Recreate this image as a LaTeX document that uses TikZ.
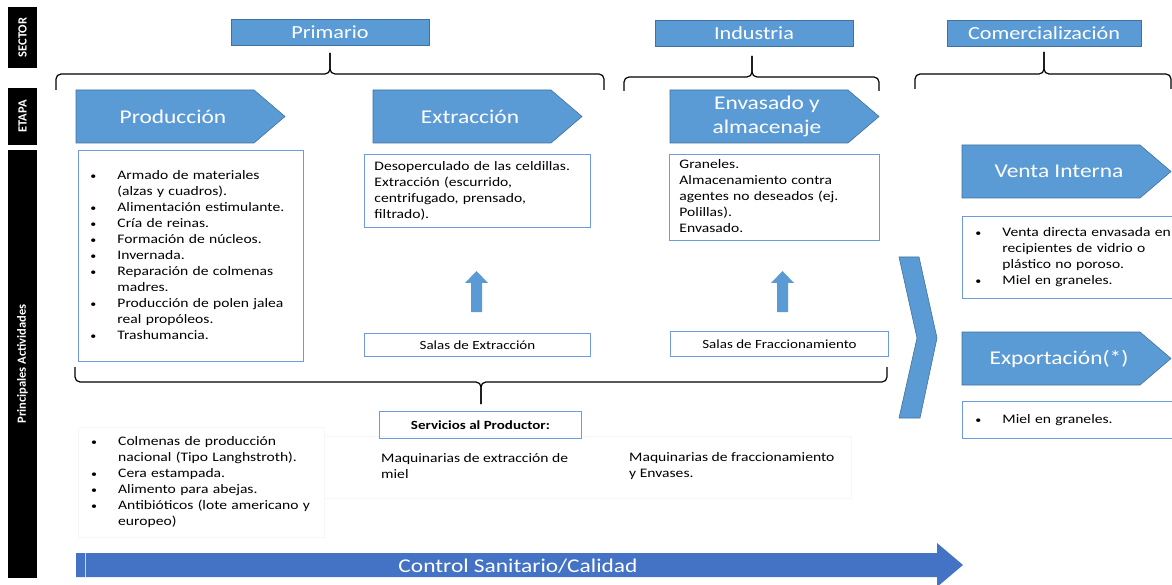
\documentclass[tikz,border=0pt]{standalone}
\usepackage{fontspec}
\setmainfont{Carlito}[FakeStretch=1.2]
\newfontfamily\rotulo{Carlito}

\definecolor{azul}{RGB}{91,155,213}
\definecolor{azulborde}{RGB}{65,113,156}
\definecolor{marco}{RGB}{110,155,220}
\definecolor{control}{RGB}{68,114,196}

\newcommand{\lista}{\fontsize{13}{16}\selectfont}
\newcommand{\pto}{{\fontsize{10}{16}\selectfont\textbullet}}
\newcommand{\vinetas}[1]{\begin{tabular}{@{}p{27pt}@{}l@{}}#1\end{tabular}}
\newcommand{\lineas}[1]{\begin{tabular}{@{}l@{}}#1\end{tabular}}

% flecha de etapa: nombre, esquina superior izquierda, rotulo
\newcommand{\etapa}[4]{%
  \filldraw[etapa] (#2,#3) -- ++(178,0) -- ++(31,26.5) -- ++(-31,26.5) -- ++(-178,0) -- cycle;
  \node[etapatxt] (#1) at ({#2+97},{#3+26.5}) {#4};}

% flechita hacia arriba
\newcommand{\subida}[1]{%
  \fill[azul] ({#1-5.5},312) -- ({#1-5.5},283) -- ({#1-11.5},283) -- (#1,271)
    -- ({#1+11.5},283) -- ({#1+5.5},283) -- ({#1+5.5},312) -- cycle;}

\tikzset{
    etapa/.style={fill=azul, draw=azulborde, line width=0.6pt},
    etapatxt/.style={text=white, font=\fontsize{19.5}{24}\selectfont, align=center, inner sep=0pt},
    sector/.style={fill=azul, draw=azulborde, line width=0.5pt, text=white,
        font=\fontsize{18.5}{20}\selectfont, minimum height=26pt, inner sep=0pt},
    lateral/.style={fill=black, text=white, rotate=90, inner sep=0pt, minimum height=29pt,
        font=\rotulo\bfseries\fontsize{12.5}{14}\selectfont},
    caja/.style={draw=marco, line width=0.9pt, fill=white, anchor=north west,
        inner ysep=0pt, align=left, font=\lista},
    sala/.style={draw=marco, line width=0.9pt, anchor=north west, inner sep=0pt,
        font=\fontsize{12.5}{14}\selectfont},
    tenue/.style={draw=black!3, line width=0.6pt},
    llave/.style={draw, line width=1.2pt, rounded corners=5pt},
}

\begin{document}
\begin{tikzpicture}[x=1pt, y=-1pt]
\useasboundingbox[fill=white] (0,0) rectangle (1172,585);

% columna izquierda
\node[lateral, minimum width=61pt] (sector) at (22.5,37.5) {SECTOR};
\node[lateral, minimum width=57pt] (etapa) at (22.5,116.5) {ETAPA};
\node[lateral, minimum width=428pt] (actividades) at (22.5,364) {Principales Actividades};

% sectores
\node[sector, minimum width=198pt] (primario) at (330,32) {Primario};
\node[sector, minimum width=198pt] (industria) at (754,33.5) {Industria};
\node[sector, minimum width=194pt] (comercial) at (1044,33) {Comercialización};

\draw[llave] (56,90) -- (56,74) -- (330,74) -- (330,53);
\draw[llave] (604,90) -- (604,74) -- (330,74) -- (330,53);
\draw[llave] (624,91) -- (624,77) -- (752,77) -- (752,56);
\draw[llave] (879,91) -- (879,77) -- (752,77) -- (752,56);
\draw[llave] (915,89) -- (915,74) -- (1044,74) -- (1044,52);
\draw[llave] (1171,89) -- (1171,74) -- (1044,74) -- (1044,52);

% etapas
\etapa{produccion}{76}{90}{Producción}
\etapa{extraccion}{373}{90}{Extracción}
\etapa{envasado}{670}{90}{Envasado y\\almacenaje}
\etapa{venta}{962}{145}{Venta Interna}
\etapa{exportacion}{962}{332}{Exportación(*)}

% actividades
\node[caja, inner xsep=12pt, text width=201pt, minimum height=211pt] (actprod) at (78,150) {\vinetas{
    \pto & Armado de materiales\\
    & (alzas y cuadros).\\
    \pto & Alimentación estimulante.\\
    \pto & Cría de reinas.\\
    \pto & Formación de núcleos.\\
    \pto & Invernada.\\
    \pto & Reparación de colmenas\\
    & madres.\\
    \pto & Producción de polen jalea\\
    & real propóleos.\\
    \pto & Trashumancia.}};
\node[caja, inner xsep=10pt, text width=206pt, minimum height=73pt] (actext) at (364,154) {\lineas{
    Desoperculado de las celdillas.\\
    Extracción (escurrido,\\
    centrifugado, prensado,\\
    filtrado).}};
\node[caja, inner xsep=10pt, text width=190pt, minimum height=86pt] (actenv) at (669,154) {\lineas{
    Graneles.\\
    Almacenamiento contra\\
    agentes no deseados (ej.\\
    Polillas).\\
    Envasado.}};
\node[caja, inner xsep=13pt, text width=189pt, minimum height=82pt] (actventa) at (962,216) {\vinetas{
    \pto & Venta directa envasada en\\
    & recipientes de vidrio o\\
    & plástico no poroso.\\
    \pto & Miel en graneles.}};
\node[caja, inner xsep=13pt, text width=189pt, minimum height=37pt] (actexpo) at (962,401) {\vinetas{
    \pto & Miel en graneles.}};

\node[sala, minimum width=226pt, minimum height=23pt] (salaext) at (364,333) {Salas de Extracción};
\node[sala, minimum width=218pt, minimum height=25pt] (salafrac) at (670,331) {Salas de Fraccionamiento};
\subida{476.5}
\subida{782.5}

\fill[etapa] (899,257) -- (919,257) -- (937,338) -- (920,418) -- (899,418) -- (917,338) -- cycle;

% servicios al productor
\draw[llave] (75,367) -- (75,382) -- (481,382) -- (481,404);
\draw[llave] (887,367) -- (887,382) -- (481,382) -- (481,404);
\draw[tenue] (78,427) rectangle (324,537);
\draw[tenue] (324,436) rectangle (851,498);
\node[sala, minimum width=202pt, minimum height=27pt, font=\bfseries\fontsize{12.5}{14}\selectfont] (servicios) at (379,411) {Servicios al Productor:};

\node[anchor=north west, inner xsep=13pt, inner ysep=0pt, text width=220pt, minimum height=110pt,
    align=left, font=\lista] (insumos) at (78,427) {\vinetas{
    \pto & Colmenas de producción\\
    & nacional (Tipo Langhstroth).\\
    \pto & Cera estampada.\\
    \pto & Alimento para abejas.\\
    \pto & Antibióticos (lote americano y\\
    & europeo)}};
\node[anchor=west, inner sep=0pt, font=\lista] (maqext) at (381,467) {\lineas{Maquinarias de extracción de\\ miel}};
\node[anchor=west, inner sep=0pt, font=\lista] (maqfrac) at (629,466) {\lineas{Maquinarias de fraccionamiento\\ y Envases.}};

% control
\fill[control] (76,553) -- (937,553) -- (937,543) -- (963,565) -- (937,587) -- (937,577) -- (76,577) -- cycle;
\draw[white!70!control, line width=0.8pt] (85,553) -- (85,577);
\node[text=white, font=\fontsize{19.5}{22}\selectfont] (control) at (518,566) {Control Sanitario/Calidad};
\end{tikzpicture}
\end{document}
